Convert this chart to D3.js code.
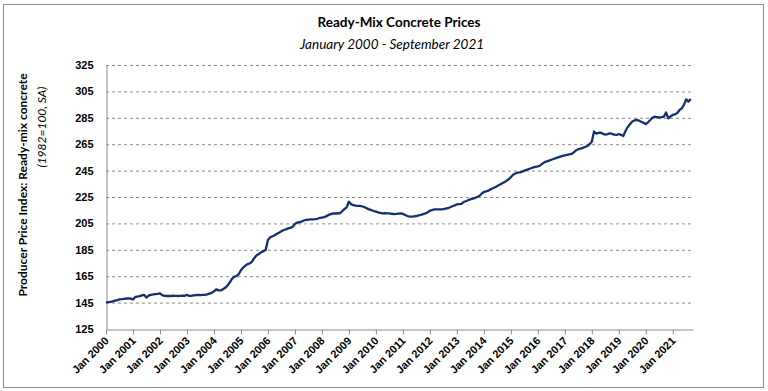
<!DOCTYPE html>
<meta charset="utf-8">
<style>
body { margin: 0; background: #fff; }
svg { font-family: Lato, "Open Sans", sans-serif; }
.grid line { stroke: #8c8c8c; stroke-dasharray: 3,3; stroke-width: 1; }
.axis path, .axis line { stroke: #8c8c8c; }
.axis text { font-size: 11px; font-weight: bold; fill: #000; }
</style>
<body>
<svg id="chart"></svg>
<script src="https://d3js.org/d3.v7.min.js"></script>
<script>

var width = 768,
    height = 391;

// monthly PPI, Jan 2000 - Sep 2021
var years = d3.range(2000, 2022);
var yTicks = [125, 145, 165, 185, 205, 225, 245, 265, 285, 305, 325];
var ppi2000s = [
  145.0, 145.3, 145.6, 146.0, 146.5, 146.9, 147.4, 147.6, 147.9, 148.1, 148.2, 148.0,
  147.4, 149.3, 149.6, 149.9, 150.4, 150.8, 148.8, 150.4, 150.9, 151.2, 151.4, 151.6,
  152.0, 150.6, 150.1, 150.0, 150.1, 150.0, 150.2, 150.1, 150.0, 150.1, 150.2, 150.2,
  150.8, 150.1, 150.2, 150.4, 150.6, 150.8, 150.6, 150.8, 150.9, 151.2, 151.8, 152.4,
  153.5, 155.0, 154.3, 154.2, 155.2, 156.2, 157.8, 160.2, 163.0, 164.6, 165.0, 166.5,
  169.5, 171.5, 173.0, 174.2, 174.8, 176.2, 179.0, 180.8, 181.8, 183.2, 184.0, 184.8,
  192.4, 194.5, 195.3, 196.0, 197.2, 198.0, 199.1, 200.0, 200.5, 201.2, 201.6, 202.5,
  204.6, 205.6, 206.0, 206.4, 207.2, 207.6, 207.9, 208.1, 208.0, 208.2, 208.5, 209.1,
  209.4, 209.7, 210.5, 211.4, 212.0, 212.6, 212.5, 212.7, 212.6, 214.2, 215.8, 217.2,
  221.4, 219.6, 218.8, 218.4, 218.3, 218.2, 217.8, 217.3, 216.4, 215.6, 215.0, 214.4
];
var ppi2010s = [
  213.9, 213.4, 212.9, 212.6, 212.8, 212.6, 212.6, 212.3, 212.1, 212.2, 212.4, 212.6,
  212.2, 211.4, 210.6, 210.1, 210.2, 210.4, 210.6, 211.0, 211.4, 212.0, 212.6, 213.3,
  214.6, 215.1, 215.6, 215.7, 215.6, 215.6, 215.8, 216.2, 216.5, 217.2, 218.0, 218.6,
  219.4, 219.6, 219.8, 221.2, 221.8, 222.6, 223.2, 223.7, 224.2, 225.0, 225.8, 227.5,
  228.8, 229.3, 229.8, 230.8, 231.6, 232.4, 233.4, 234.3, 235.2, 236.2, 237.2, 238.4,
  240.0, 241.8, 242.8, 243.4, 243.6, 244.2, 245.0, 245.6, 246.2, 246.8, 247.4, 247.8,
  248.2, 248.8, 250.2, 251.4, 252.0, 252.6, 253.2, 253.8, 254.4, 255.0, 255.6, 256.2,
  256.6, 256.9, 257.3, 257.6, 258.8, 260.4, 261.2, 261.6, 262.2, 262.9, 263.6, 265.0,
  266.8, 274.6, 273.0, 273.6, 273.8, 272.8, 272.2, 272.6, 273.3, 272.8, 272.2, 272.0,
  272.7, 272.1, 271.2, 275.0, 278.0, 280.2, 282.2, 283.0, 283.4, 282.8, 282.0, 281.2
];
var ppi2020s = [
  280.2, 281.6, 283.3, 285.2, 285.8, 285.4, 285.3, 285.5, 285.8, 289.0, 284.6, 286.0,
  287.2, 287.6, 288.6, 290.9, 292.2, 295.0, 299.0, 297.3, 299.3
];
var ppi = ppi2000s.concat(ppi2010s, ppi2020s);

var margin = {left: 106, right: 75, top: 65, bottom: 62};

var x = d3.scaleLinear()
    .domain([0, 261])
    .range([margin.left, width - margin.right]);

var y = d3.scaleLinear()
    .domain([125, 325])
    .range([height - margin.bottom, margin.top]);

var svg = d3.select("#chart")
    .attr("width", width)
    .attr("height", height);

// outer frame
svg.append("rect")
    .attr("x", 3.5).attr("y", 4.5)
    .attr("width", 760).attr("height", 383)
    .attr("fill", "none")
    .attr("stroke", "#8c8c8c");

// titles
svg.append("text")
    .attr("x", 399).attr("y", 27)
    .attr("text-anchor", "middle")
    .attr("font-size", "13.5px")
    .attr("font-weight", "bold")
    .text("Ready-Mix Concrete Prices");

svg.append("text")
    .attr("x", 392).attr("y", 49)
    .attr("text-anchor", "middle")
    .attr("font-size", "13.5px")
    .attr("font-style", "italic")
    .text("January 2000 - September 2021");

// gridlines
svg.append("g")
    .attr("class", "grid")
    .selectAll("line")
    .data(yTicks.slice(1))
  .enter().append("line")
    .attr("x1", x(0)).attr("x2", x(261))
    .attr("y1", function(d) { return y(d) + 0.5; })
    .attr("y2", function(d) { return y(d) + 0.5; });

// y axis
var yAxis = svg.append("g")
    .attr("class", "axis")
    .attr("transform", "translate(" + (x(0) + 0.5) + ",0)")
    .call(d3.axisLeft(y).tickValues(yTicks).tickSize(0).tickPadding(13));
yAxis.selectAll("text").attr("font-size", "12px");

// x axis
var xAxis = svg.append("g")
    .attr("class", "axis")
    .attr("transform", "translate(0," + (y(125) + 0.5) + ")")
    .call(d3.axisBottom(x)
      .tickValues(years.map(function(d, i) { return i * 12; }))
      .tickSize(5)
      .tickSizeOuter(0)
      .tickFormat(function(d) { return "Jan " + (2000 + d / 12); }));

xAxis.selectAll("text")
    .attr("text-anchor", "end")
    .attr("dy", 0)
    .attr("y", 0)
    .attr("transform", "translate(3,12) rotate(-45)");

// axis titles
svg.append("text")
    .attr("transform", "translate(27,185) rotate(-90)")
    .attr("text-anchor", "middle")
    .attr("font-size", "12px")
    .attr("font-weight", "bold")
    .text("Producer Price Index: Ready-mix concrete");

svg.append("text")
    .attr("transform", "translate(46,127) rotate(-90)")
    .attr("text-anchor", "middle")
    .attr("font-size", "12px")
    .attr("font-style", "italic")
    .text("(1982=100, SA)");

// series
var line = d3.line()
    .x(function(d, i) { return x(i); })
    .y(function(d) { return y(d); });

svg.append("path")
    .datum(ppi)
    .attr("fill", "none")
    .attr("stroke", "#14306e")
    .attr("stroke-width", 2.3)
    .attr("stroke-linejoin", "round")
    .attr("d", line);

</script>
</body>
